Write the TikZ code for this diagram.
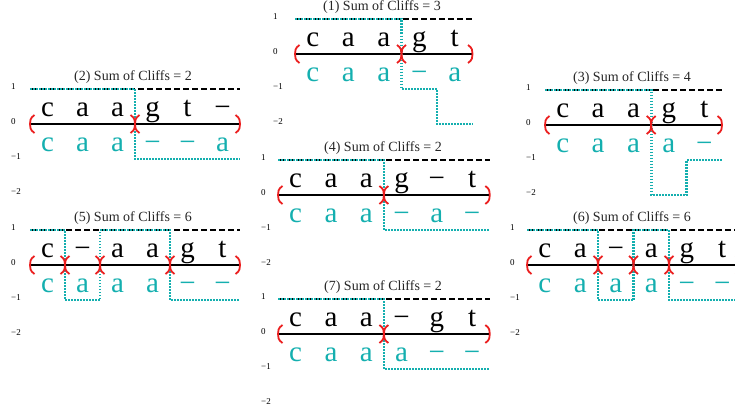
\documentclass[tikz,border=0pt]{standalone}
\usepackage{fontspec}
\setmainfont{Liberation Serif}
\definecolor{cc}{RGB}{20,175,175}
\definecolor{rr}{RGB}{235,30,30}
\tikzset{
  base line/.style={line width=1.6pt, black},
  level dash/.style={line width=1.5pt, black, dash pattern=on 6pt off 3pt},
  cliffline/.style={line width=2.6pt, cc, dash pattern=on 1.5pt off 1.5pt},
  redmark/.style={line width=1.8pt, rr},
  titletext/.style={font=\fontsize{14}{16}\selectfont, text=black!85, inner sep=0pt},
  axlabel/.style={font=\fontsize{9}{10}\selectfont, anchor=west, inner sep=0pt},
  topletter/.style={font=\fontsize{29}{30}\selectfont, anchor=base, inner sep=0pt},
  botletter/.style={topletter, text=cc},
}
\newcommand{\setpanel}[4]{\def\pL{#1}\def\pY{#2}\def\pW{#3}\pgfmathsetmacro\pR{#1+#4*#3}}
\newcommand{\panelframe}[4]{%
  \node[titletext] (#1title) at (#2,\pY-47) {#3};
  \node[axlabel] (#1lp) at (#4,\pY-37.5) {1};
  \node[axlabel] (#1lz) at (#4,\pY-2.5) {0};
  \node[axlabel] (#1lm) at (#4,\pY+32.5) {−1};
  \node[axlabel] (#1ln) at (#4,\pY+67.5) {−2};
  \draw[level dash] (\pL,\pY-35) -- (\pR,\pY-35);
  \draw[base line] (\pL,\pY) -- (\pR,\pY);
}
\newcommand{\toprow}[2]{\foreach \ch [count=\i] in {#2} {\node[topletter] (#1t\i) at ({\pL+(\i-0.5)*\pW},\pY-7.5) {\ch};}}
\newcommand{\botrow}[2]{\foreach \ch [count=\i] in {#2} {\node[botletter] (#1b\i) at ({\pL+(\i-0.5)*\pW},\pY+27.7) {\ch};}}
\newcommand{\cliffsteps}[1]{\draw[cliffline] (\pL,\pY-35) \foreach \lv [count=\i] in {#1} { -- ({\pL+(\i-1)*\pW},{\pY-35*(\lv)}) -- ({\pL+\i*\pW},{\pY-35*(\lv)}) };}
\newcommand{\redparen}[2]{\draw[redmark] ({#1+(#2)*4.5},\pY-9) .. controls ({#1},\pY-6) and ({#1},\pY-3) .. ({#1},\pY) .. controls ({#1},\pY+3) and ({#1},\pY+6) .. ({#1+(#2)*4.5},\pY+9);}
\newcommand{\cliffmarks}[1]{\redparen{\pL}{1}\redparen{\pR}{-1}\foreach \cl in {#1} {\pgfmathsetmacro\cx{\pL+\cl*\pW}\redparen{\cx}{-1}\redparen{\cx}{1}}}
\begin{document}
\begin{tikzpicture}[x=1pt,y=-1pt]
\useasboundingbox (0,0) rectangle (735,412);
% Panel 1
\setpanel{295}{54}{35.5}{5}
\panelframe{pa}{382}{(1) Sum of Cliffs = 3}{273}
\cliffsteps{1,1,1,-1,-2}
\cliffmarks{3}
\toprow{pa}{c,a,a,g,t}
\botrow{pa}{c,a,a,−,a}
% Panel 2
\setpanel{30}{124}{35}{6}
\panelframe{pb}{133}{(2) Sum of Cliffs = 2}{11}
\cliffsteps{1,1,1,-1,-1,-1}
\cliffmarks{3}
\toprow{pb}{c,a,a,g,t,−}
\botrow{pb}{c,a,a,−,−,a}
% Panel 3
\setpanel{545}{125}{35.4}{5}
\panelframe{pc}{632}{(3) Sum of Cliffs = 4}{526}
\cliffsteps{1,1,1,-2,-1}
\cliffmarks{3}
\toprow{pc}{c,a,a,g,t}
\botrow{pc}{c,a,a,a,−}
% Panel 4
\setpanel{278}{195}{35.3}{6}
\panelframe{pd}{383}{(4) Sum of Cliffs = 2}{261}
\cliffsteps{1,1,1,-1,-1,-1}
\cliffmarks{3}
\toprow{pd}{c,a,a,g,−,t}
\botrow{pd}{c,a,a,−,a,−}
% Panel 5
\setpanel{30}{265}{35}{6}
\panelframe{pe}{133}{(5) Sum of Cliffs = 6}{11}
\cliffsteps{1,-1,1,1,-1,-1}
\cliffmarks{1,2,4}
\toprow{pe}{c,−,a,a,g,t}
\botrow{pe}{c,a,a,a,−,−}
% Panel 6
\setpanel{527}{265}{35.5}{6}
\panelframe{pf}{632}{(6) Sum of Cliffs = 6}{510}
\cliffsteps{1,1,-1,1,-1,-1}
\cliffmarks{2,3,4}
\toprow{pf}{c,a,−,a,g,t}
\botrow{pf}{c,a,a,a,−,−}
% Panel 7
\setpanel{278}{334}{35.3}{6}
\panelframe{pg}{383}{(7) Sum of Cliffs = 2}{261}
\cliffsteps{1,1,1,-1,-1,-1}
\cliffmarks{3}
\toprow{pg}{c,a,a,−,g,t}
\botrow{pg}{c,a,a,a,−,−}
\end{tikzpicture}
\end{document}
